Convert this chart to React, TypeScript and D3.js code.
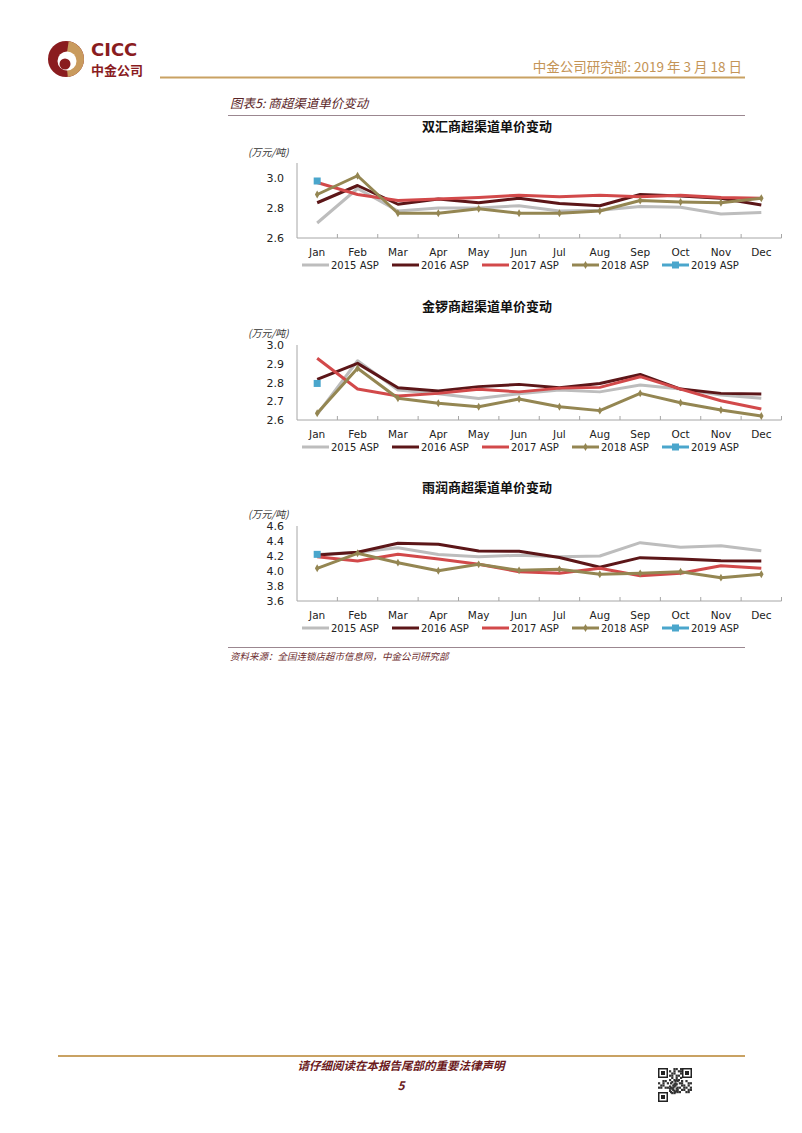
import * as d3 from 'd3';

const months = ['Jan', 'Feb', 'Mar', 'Apr', 'May', 'Jun', 'Jul', 'Aug', 'Sep', 'Oct', 'Nov', 'Dec'];
const seriesNames = ['2015 ASP', '2016 ASP', '2017 ASP', '2018 ASP', '2019 ASP'];
const seriesColors = ['#bdbdbd', '#5c1618', '#d2494a', '#948652', '#4aa6cc'];

// 双汇
const shuanghui2015 = [2.7, 2.93, 2.78, 2.8, 2.8, 2.815, 2.78, 2.785, 2.81, 2.805, 2.76, 2.77];
const shuanghui2016 = [2.835, 2.95, 2.825, 2.86, 2.835, 2.865, 2.83, 2.815, 2.89, 2.88, 2.865, 2.82];
const shuanghui2017 = [2.97, 2.89, 2.85, 2.86, 2.87, 2.885, 2.875, 2.885, 2.875, 2.885, 2.87, 2.865];
const shuanghui2018 = [2.89, 3.015, 2.765, 2.765, 2.795, 2.765, 2.765, 2.78, 2.85, 2.84, 2.835, 2.865];
const shuanghui2019 = [2.98];
const shuanghuiTicks = [2.6, 2.8, 3.0];

// 金锣
const jinluo2015 = [2.63, 2.916, 2.76, 2.74, 2.715, 2.74, 2.76, 2.75, 2.787, 2.765, 2.733, 2.716];
const jinluo2016 = [2.817, 2.902, 2.772, 2.755, 2.778, 2.79, 2.772, 2.795, 2.843, 2.765, 2.742, 2.739];
const jinluo2017 = [2.929, 2.765, 2.728, 2.742, 2.764, 2.75, 2.77, 2.774, 2.831, 2.765, 2.703, 2.659];
const jinluo2018 = [2.636, 2.876, 2.716, 2.689, 2.671, 2.712, 2.671, 2.65, 2.742, 2.692, 2.653, 2.621];
const jinluo2019 = [2.795];
const jinluoTicks = [2.6, 2.7, 2.8, 2.9, 3.0];

// 雨润
const yurun2015 = [4.22, 4.25, 4.31, 4.22, 4.19, 4.21, 4.19, 4.2, 4.378, 4.316, 4.337, 4.27];
const yurun2016 = [4.213, 4.249, 4.369, 4.356, 4.267, 4.262, 4.18, 4.049, 4.178, 4.16, 4.138, 4.133];
const yurun2017 = [4.19, 4.133, 4.222, 4.16, 4.089, 3.991, 3.969, 4.036, 3.938, 3.969, 4.071, 4.036];
const yurun2018 = [4.036, 4.236, 4.111, 4.004, 4.089, 4.009, 4.022, 3.956, 3.969, 3.991, 3.911, 3.956];
const yurun2019 = [4.222];
const yurunTicks = [3.6, 3.8, 4.0, 4.2, 4.4, 4.6];

const cjk = '"Noto Sans CJK SC", sans-serif';
const latin = '"DejaVu Sans", Verdana, sans-serif';

type ChartProps = {
  title: string;
  series: number[][];
  domain: [number, number];
  ticks: number[];
  top: number; // y of title
};

function LineChart({ title, series, domain, ticks, top }: ChartProps) {
  const plotTop = top + (domain[0] === 2.6 && domain[1] === 3.1 ? 37 : 39);
  const plotBottom = plotTop + 75;
  const x = d3.scaleBand<string>().domain(months).range([297, 781.5]);
  const y = d3.scaleLinear().domain(domain).range([plotBottom, plotTop]);
  const cx = (i: number) => (x(months[i]) ?? 0) + x.bandwidth() / 2;
  const line = d3
    .line<number>()
    .x((_, i) => cx(i))
    .y((d) => y(d));
  const diamond = d3.symbol().type(d3.symbolDiamond).size(18)();
  const legendY = plotBottom + 27;
  const unitY = domain[1] === 3.1 ? plotTop - 7 : plotTop - 8;

  return (
    <g>
      <text x={487} y={top + 5} textAnchor="middle" fontFamily={cjk} fontWeight={700} fontSize={13} fill="#111">
        {title}
      </text>
      <text x={248} y={unitY} fontFamily={cjk} fontSize={10} fontStyle="italic" fill="#333">
        (万元/吨)
      </text>
      {/* axes */}
      <line x1={297} x2={297} y1={plotTop} y2={plotBottom} stroke="#a6a6a6" />
      <line x1={297} x2={781.5} y1={plotBottom} y2={plotBottom} stroke="#a6a6a6" />
      {months.map((m) => (
        <line key={m} x1={x(m)! + x.bandwidth()} x2={x(m)! + x.bandwidth()} y1={plotBottom} y2={plotBottom - 4} stroke="#a6a6a6" />
      ))}
      {ticks.map((t) => (
        <text key={t} x={284} y={y(t) + 4} textAnchor="end" fontFamily={latin} fontSize={11} fill="#222">
          {d3.format('.1f')(t)}
        </text>
      ))}
      {months.map((m, i) => (
        <text key={m} x={cx(i)} y={plotBottom + 18} textAnchor="middle" fontFamily={latin} fontSize={10.5} fill="#222">
          {m}
        </text>
      ))}
      {/* lines */}
      {series.slice(0, 4).map((s, k) => (
        <path key={k} d={line(s) ?? ''} fill="none" stroke={seriesColors[k]} strokeWidth={3} strokeLinejoin="round" />
      ))}
      {series[3].map((v, i) => (
        <path key={i} d={diamond ?? ''} transform={`translate(${cx(i)},${y(v)})`} fill={seriesColors[3]} />
      ))}
      {series[4].map((v, i) => (
        <rect key={i} x={cx(i) - 3.5} y={y(v) - 3.5} width={7} height={7} fill={seriesColors[4]} />
      ))}
      {/* legend */}
      {seriesNames.map((name, k) => {
        const lx = 302 + k * 90;
        return (
          <g key={name}>
            <line x1={lx} x2={lx + 27} y1={legendY} y2={legendY} stroke={seriesColors[k]} strokeWidth={3} />
            {k === 3 && <path d={diamond ?? ''} transform={`translate(${lx + 13.5},${legendY})`} fill={seriesColors[3]} />}
            {k === 4 && <rect x={lx + 10} y={legendY - 3.5} width={7} height={7} fill={seriesColors[4]} />}
            <text x={lx + 29} y={legendY + 4} fontFamily={latin} fontSize={10} fill="#222">
              {name}
            </text>
          </g>
        );
      })}
    </g>
  );
}

function Logo() {
  const arc = d3.arc();
  const tan = arc({ innerRadius: 0, outerRadius: 18, startAngle: 0.15, endAngle: Math.PI - 0.1 });
  return (
    <g transform="translate(66,59)">
      <circle r={18} fill="#8a1c1f" />
      <path d={tan ?? ''} fill="#c99b5e" />
      <circle cx={1} cy={2} r={9.5} fill="#fff" />
      <circle cx={-1} cy={5} r={5.5} fill="#8a1c1f" />
      <text x={25} y={-3} fontFamily='"DejaVu Sans", sans-serif' fontWeight={700} fontSize={18} fill="#8a1c1f">
        CICC
      </text>
      <text x={25} y={16} fontFamily={cjk} fontWeight={700} fontSize={13} fill="#8a1c1f">
        中金公司
      </text>
    </g>
  );
}

const qrCells = [
  [0, 0, 1, 1, 0, 1, 0, 1, 0, 0],
  [1, 0, 1, 0, 1, 1, 0, 0, 1, 1],
  [0, 1, 1, 0, 0, 1, 1, 0, 1, 0],
  [1, 1, 0, 1, 1, 0, 1, 1, 0, 1],
  [0, 1, 0, 1, 0, 1, 1, 0, 1, 1],
  [1, 0, 1, 1, 1, 0, 0, 1, 1, 0],
];

function QRCode() {
  const x0 = 658;
  const y0 = 1068;
  const finder = (fx: number, fy: number) => (
    <g key={`${fx}-${fy}`}>
      <rect x={fx} y={fy} width={10} height={10} fill="#222" />
      <rect x={fx + 1.5} y={fy + 1.5} width={7} height={7} fill="#fff" />
      <rect x={fx + 3} y={fy + 3} width={4} height={4} fill="#222" />
    </g>
  );
  return (
    <g>
      {finder(x0, y0)}
      {finder(x0 + 24, y0)}
      {finder(x0, y0 + 24)}
      {qrCells.map((row, r) =>
        row.map((c, j) =>
          c ? <rect key={`${r}-${j}`} x={x0 + 11 + (j % 6) * 2.2} y={y0 + r * 2.2 + (j > 5 ? 13 : 0)} width={2.2} height={2.2} fill="#333" /> : null
        )
      )}
      {qrCells.map((row, r) =>
        row.map((c, j) =>
          c ? <rect key={`b${r}-${j}`} x={x0 + 12 + j * 2.2} y={y0 + 12 + r * 2.2} width={2.2} height={2.2} fill="#333" /> : null
        )
      )}
      {qrCells.slice(0, 4).map((row, r) =>
        row.slice(0, 5).map((c, j) =>
          c ? <rect key={`c${r}-${j}`} x={x0 + j * 2.2} y={y0 + 12 + r * 2.2} width={2.2} height={2.2} fill="#333" /> : null
        )
      )}
    </g>
  );
}

export default function App() {
  return (
    <div style={{ position: 'absolute', left: 0, top: 0 }}>
      <svg width={802} height={1133} style={{ display: 'block', background: '#fff' }}>
        <Logo />
        <text x={742} y={72} textAnchor="end" fontFamily={cjk} fontSize={13.5} fill="#c49456">
          中金公司研究部: 2019 年 3 月 18 日
        </text>
        <line x1={160} x2={745} y1={77.5} y2={77.5} stroke="#c9a263" strokeWidth={2} />

        <text x={230} y={108} fontFamily={cjk} fontStyle="italic" fontSize={12.5} fill="#5a2426">
          图表5: 商超渠道单价变动
        </text>
        <line x1={228} x2={745} y1={115.5} y2={115.5} stroke="#9b8790" strokeWidth={1} />

        <LineChart
          title="双汇商超渠道单价变动"
          series={[shuanghui2015, shuanghui2016, shuanghui2017, shuanghui2018, shuanghui2019]}
          domain={[2.6, 3.1]}
          ticks={shuanghuiTicks}
          top={126}
        />
        <LineChart
          title="金锣商超渠道单价变动"
          series={[jinluo2015, jinluo2016, jinluo2017, jinluo2018, jinluo2019]}
          domain={[2.6, 3.0]}
          ticks={jinluoTicks}
          top={306}
        />
        <LineChart
          title="雨润商超渠道单价变动"
          series={[yurun2015, yurun2016, yurun2017, yurun2018, yurun2019]}
          domain={[3.6, 4.6]}
          ticks={yurunTicks}
          top={487}
        />

        <line x1={228} x2={745} y1={647.5} y2={647.5} stroke="#9b8790" strokeWidth={1} />
        <text x={230} y={660} fontFamily={cjk} fontStyle="italic" fontSize={9.5} fill="#6b2a2c">
          资料来源：全国连锁店超市信息网，中金公司研究部
        </text>

        <line x1={58} x2={745} y1={1056} y2={1056} stroke="#c9a263" strokeWidth={2} />
        <text x={401} y={1070} textAnchor="middle" fontFamily={cjk} fontStyle="italic" fontWeight={700} fontSize={11.5} fill="#6b1a1c">
          请仔细阅读在本报告尾部的重要法律声明
        </text>
        <text x={401} y={1090} textAnchor="middle" fontFamily={cjk} fontStyle="italic" fontWeight={700} fontSize={12} fill="#6b1a1c">
          5
        </text>
        <QRCode />
      </svg>
    </div>
  );
}
